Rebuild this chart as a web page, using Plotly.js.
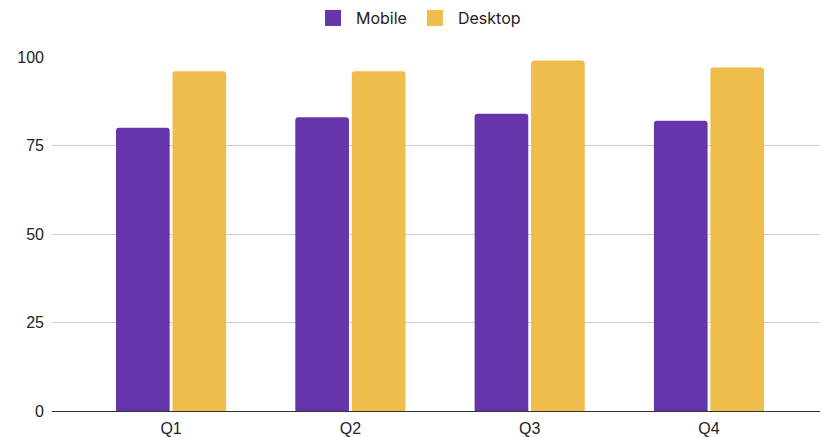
<!DOCTYPE html>
<html><head><meta charset="utf-8">
<script src="https://cdn.plot.ly/plotly-3.0.1.min.js"></script>
<style>html,body{margin:0;padding:0;background:#fff}#chart{width:821px;height:437px}</style>
</head><body><div id="chart"></div>
<script>
const categories = ["Q1", "Q2", "Q3", "Q4"];
const mobile = [80, 83, 84, 82];
const desktop = [96, 96, 99, 97];
const yTicks = [0, 25, 50, 75, 100];
const seriesNames = ["Mobile", "Desktop"];
const colors = ["#6735ab", "#efbd4b"];

const traces = [
  {type: "bar", name: seriesNames[0], x: categories, y: mobile, marker: {color: colors[0]}, showlegend: false},
  {type: "bar", name: seriesNames[1], x: categories, y: desktop, marker: {color: colors[1]}, showlegend: false},
  {type: "scatter", mode: "markers", name: seriesNames[0], x: [null], y: [null],
   marker: {symbol: "square", size: 16, color: colors[0]}},
  {type: "scatter", mode: "markers", name: seriesNames[1], x: [null], y: [null],
   marker: {symbol: "square", size: 16, color: colors[1]}}
];
const layout = {
  width: 821, height: 437,
  margin: {l: 52, r: 1, t: 57, b: 26},
  paper_bgcolor: "#fff", plot_bgcolor: "#fff",
  barmode: "group", bargap: 0.37, bargroupgap: 0.05, barcornerradius: 3,
  font: {family: "Liberation Sans, Arial, sans-serif", size: 16, color: "#222"},
  xaxis: {type: "category", range: [-0.664, 3.619], showline: true, linecolor: "#333", linewidth: 1,
          ticks: "", showgrid: false, ticklabelstandoff: 3, tickfont: {size: 16, color: "#222"}},
  yaxis: {range: [0, 100], tickvals: yTicks, ticktext: yTicks.map(String), showgrid: true,
          gridcolor: "#cccccc", gridwidth: 1, zeroline: false, ticks: "", ticklabelstandoff: 7,
          tickfont: {size: 16, color: "#222"}},
  legend: {orientation: "h", x: 0.4766, xanchor: "center", y: 1.11, yanchor: "middle",
           font: {family: "Inter, Roboto, sans-serif", size: 16, color: "#222"}, itemwidth: 36,
           tracegroupgap: 0},
  showlegend: true
};
Plotly.newPlot("chart", traces, layout, {staticPlot: true, displayModeBar: false});
</script></body></html>
